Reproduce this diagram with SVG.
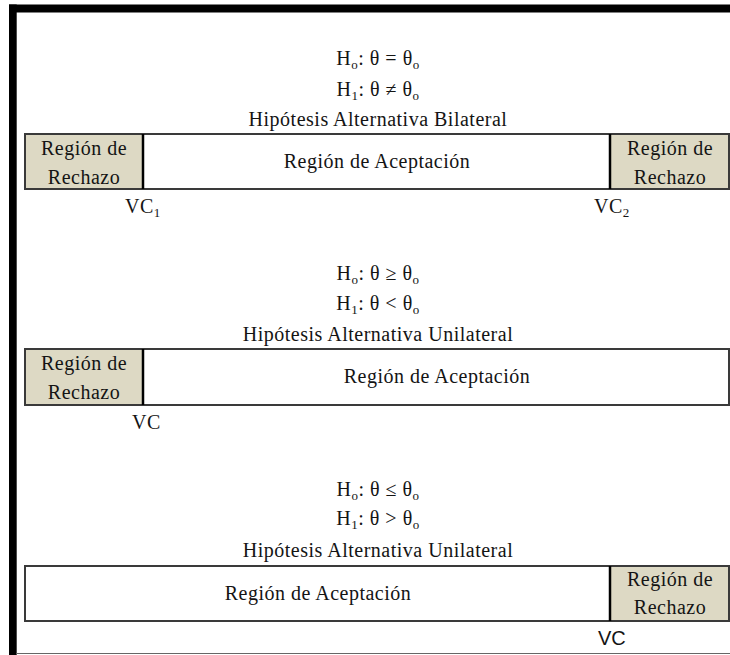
<svg xmlns="http://www.w3.org/2000/svg" width="730" height="655" viewBox="0 0 730 655">
  <style>
    .t{font-family:'Liberation Serif','Times New Roman',serif;font-size:20px;letter-spacing:0.5px;fill:#141414;text-anchor:middle}
    .l{font-family:'Liberation Serif','Times New Roman',serif;font-size:20px;letter-spacing:0.5px;fill:#141414}
    .s{font-family:'Liberation Sans',Arial,sans-serif;font-size:20px;fill:#141414}
    .sub{font-size:13px}
    .acc{fill:#fff}
    .rej{fill:#ddd9c4}
    .frame{fill:none;stroke:#3a3a3a;stroke-width:2}
    .div{stroke:#000;stroke-width:2.5}
  </style>

  <!-- page and black border -->
  <rect x="0" y="0" width="730" height="655" fill="#fff"/>
  <rect x="9" y="4.5" width="721" height="8" fill="#000"/>
  <rect x="9" y="4.5" width="7.7" height="650.5" fill="#000"/>
  <line x1="16" y1="653.5" x2="730" y2="653.5" stroke="#666" stroke-width="1.2"/>

  <!-- two-sided test -->
  <g id="bilateral">
    <text class="t" x="378" y="65">H<tspan class="sub" dy="4">o</tspan><tspan dy="-4">: θ = θ</tspan><tspan class="sub" dy="4">o</tspan></text>
    <text class="t" x="378" y="96">H<tspan class="sub" dy="4">1</tspan><tspan dy="-4">: θ ≠ θ</tspan><tspan class="sub" dy="4">o</tspan></text>
    <text class="t" x="378" y="126">Hipótesis Alternativa Bilateral</text>
    <g id="bil-rechazo-izq">
      <rect class="rej" x="25" y="134" width="118" height="55"/>
      <text class="t" x="84" y="155">Región de</text>
      <text class="t" x="84" y="184">Rechazo</text>
    </g>
    <g id="bil-aceptacion">
      <rect class="acc" x="143" y="134" width="467" height="55"/>
      <text class="t" x="377" y="168">Región de Aceptación</text>
    </g>
    <g id="bil-rechazo-der">
      <rect class="rej" x="610" y="134" width="119" height="55"/>
      <text class="t" x="670" y="155">Región de</text>
      <text class="t" x="670" y="184">Rechazo</text>
    </g>
    <rect class="frame" x="25" y="134" width="704" height="55"/>
    <line class="div" x1="143" y1="134" x2="143" y2="189"/>
    <line class="div" x1="610" y1="134" x2="610" y2="189"/>
    <text class="l" x="125" y="213">VC<tspan class="sub" dy="4">1</tspan></text>
    <text class="l" x="594" y="213">VC<tspan class="sub" dy="4">2</tspan></text>
  </g>

  <!-- one-sided test, lower tail -->
  <g id="unilateral-izq">
    <text class="t" x="378" y="280">H<tspan class="sub" dy="4">o</tspan><tspan dy="-4">: θ ≥ θ</tspan><tspan class="sub" dy="4">o</tspan></text>
    <text class="t" x="378" y="310">H<tspan class="sub" dy="4">1</tspan><tspan dy="-4">: θ &lt; θ</tspan><tspan class="sub" dy="4">o</tspan></text>
    <text class="t" x="378" y="341">Hipótesis Alternativa Unilateral</text>
    <g id="uni1-rechazo">
      <rect class="rej" x="25" y="349" width="118" height="56"/>
      <text class="t" x="84" y="370">Región de</text>
      <text class="t" x="84" y="399">Rechazo</text>
    </g>
    <g id="uni1-aceptacion">
      <rect class="acc" x="143" y="349" width="586" height="56"/>
      <text class="t" x="437" y="383">Región de Aceptación</text>
    </g>
    <rect class="frame" x="25" y="349" width="704" height="56"/>
    <line class="div" x1="143" y1="349" x2="143" y2="405"/>
    <text class="l" x="132" y="429">VC</text>
  </g>

  <!-- one-sided test, upper tail -->
  <g id="unilateral-der">
    <text class="t" x="378" y="496">H<tspan class="sub" dy="4">o</tspan><tspan dy="-4">: θ ≤ θ</tspan><tspan class="sub" dy="4">o</tspan></text>
    <text class="t" x="378" y="525">H<tspan class="sub" dy="4">1</tspan><tspan dy="-4">: θ &gt; θ</tspan><tspan class="sub" dy="4">o</tspan></text>
    <text class="t" x="378" y="557">Hipótesis Alternativa Unilateral</text>
    <g id="uni2-aceptacion">
      <rect class="acc" x="25" y="566" width="585" height="55"/>
      <text class="t" x="318" y="600">Región de Aceptación</text>
    </g>
    <g id="uni2-rechazo">
      <rect class="rej" x="610" y="566" width="119" height="55"/>
      <text class="t" x="670" y="586">Región de</text>
      <text class="t" x="670" y="614">Rechazo</text>
    </g>
    <rect class="frame" x="25" y="566" width="704" height="55"/>
    <line class="div" x1="610" y1="566" x2="610" y2="621"/>
    <text class="s" x="598" y="645">VC</text>
  </g>

  <g id="connectors"/>
</svg>
